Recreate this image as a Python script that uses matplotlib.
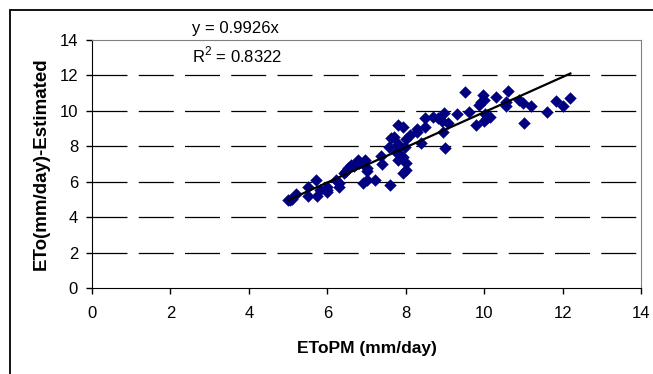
import matplotlib
matplotlib.use("Agg")
import matplotlib.pyplot as plt
from matplotlib.patches import Rectangle
import numpy as np

# ETo PM vs estimated (mm/day)
eto_pm = [5.00, 5.06, 5.10, 5.20, 5.50, 5.50, 5.72, 5.73, 5.82, 6.00,
          5.98, 6.00, 6.22, 6.30, 6.30, 6.42, 6.47, 6.53, 6.60, 6.68,
          6.78, 6.80, 6.90, 6.97, 7.00, 7.00, 7.00, 7.22, 7.38, 7.40,
          7.60, 7.58, 7.62, 7.70, 7.80, 7.92, 7.80, 7.86, 7.76, 7.85,
          7.80, 7.92, 7.92, 8.00, 8.00, 7.98, 8.02, 8.12, 8.28, 8.30,
          8.38, 8.48, 8.50, 8.70, 8.82, 8.92, 8.98, 8.96, 9.00, 9.08,
          9.30, 9.52, 9.62, 9.80, 9.88, 9.93, 9.98, 10.00, 10.00, 10.03,
          10.08, 10.14, 10.30, 10.55, 10.56, 10.60, 10.90, 10.98, 11.02, 11.20,
          11.60, 11.82, 12.02, 12.18]
eto_est = [4.95, 4.97, 5.05, 5.32, 5.72, 5.22, 6.10, 5.20, 5.53, 5.44,
           5.72, 5.55, 6.12, 5.72, 5.90, 6.47, 6.62, 6.78, 6.92, 6.88,
           7.25, 7.05, 5.95, 7.20, 6.62, 6.80, 6.10, 6.10, 7.45, 7.02,
           5.80, 7.98, 8.45, 8.55, 9.18, 9.10, 8.15, 7.95, 7.70, 7.50,
           7.25, 7.40, 6.50, 6.65, 7.05, 7.98, 8.40, 8.62, 8.78, 9.00,
           8.20, 9.08, 9.58, 9.68, 9.58, 9.40, 9.88, 8.80, 7.88, 9.30,
           9.84, 11.08, 9.96, 9.22, 10.35, 10.50, 10.92, 10.62, 9.40, 9.85,
           9.58, 9.66, 10.79, 10.30, 10.48, 11.12, 10.62, 10.42, 9.34, 10.28,
           9.96, 10.55, 10.30, 10.70]

slope = 0.9926
r2 = 0.8322
fit_x = [4.99, 12.2]
ticks = [0, 2, 4, 6, 8, 10, 12, 14]

plt.rcParams['font.family'] = ['Liberation Sans', 'DejaVu Sans']
plt.rcParams['mathtext.fontset'] = 'custom'
plt.rcParams['mathtext.rm'] = 'Liberation Sans'

fig = plt.figure(figsize=(6.53, 3.74), dpi=100)
ax = fig.add_axes([92 / 653, 1 - 288 / 374, (641 - 92) / 653, (288 - 40) / 374])

# outer chart frame (left/top edges visible only)
fig.add_artist(Rectangle((10 / 653, -0.2), 1.2, 1.2 - 10 / 374, transform=fig.transFigure,
                         fill=False, edgecolor='black', linewidth=1.3))

ax.scatter(eto_pm, eto_est, marker='D', s=36, c='#000080', edgecolors='#000080', linewidths=0.3, zorder=3)
fx = np.array(fit_x)
ax.plot(fx, slope * fx, c='black', linewidth=1.6, zorder=4)

ax.set_xlim(0, 14)
ax.set_ylim(0, 14)
ax.set_xticks(ticks)
ax.set_yticks(ticks)
ax.tick_params(direction='out', length=4, width=1, labelsize=12, color='black')
ax.tick_params(axis='x', pad=9)
ax.tick_params(axis='y', pad=6)

for y in ticks[1:-1]:
    ax.axhline(y, color='black', linewidth=0.9, linestyle=(0, (28, 9)), zorder=1)

ax.spines['left'].set_color('black')
ax.spines['bottom'].set_color('black')
ax.spines['top'].set_color('#808080')
ax.spines['right'].set_color('#808080')

ax.set_xlabel('EToPM (mm/day)', fontsize=12.5, fontweight='bold', va='center')
ax.xaxis.set_label_coords(0.5, (288 - 348) / 248)
ax.set_ylabel('ETo(mm/day)-Estimated', fontsize=13.5, fontweight='bold', va='center')
ax.yaxis.set_label_coords((41.7 - 92) / 549, 0.5)

fig.text(192 / 653, 1 - 28 / 374, f'y = {slope}x', fontsize=12, va='center', ha='left')
fig.text(192 / 653, 1 - 55 / 374, f'R$^2$ = {r2}', fontsize=12, va='center', ha='left')

fig.savefig('out.png', dpi=100)
